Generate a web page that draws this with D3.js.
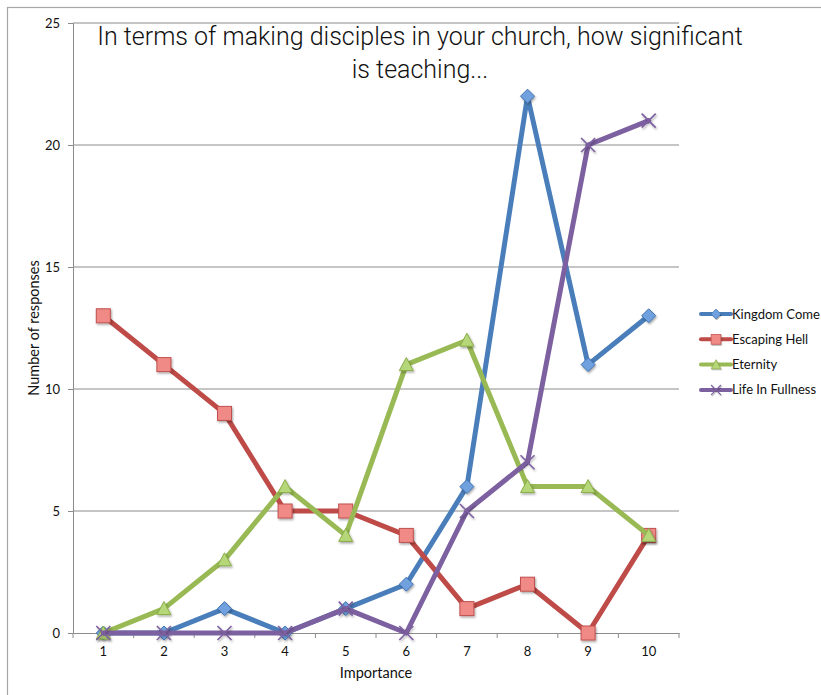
<!DOCTYPE html>
<html>
<head>
<meta charset="utf-8">
<script src="https://cdn.jsdelivr.net/npm/d3@7"></script>
<style>
  html, body { margin: 0; padding: 0; background: #fff; }
  svg { display: block; }
</style>
</head>
<body>
<svg id="chart" width="821" height="695"></svg>
<script>
// Survey responses per importance rating (1–10)
const categories = [1, 2, 3, 4, 5, 6, 7, 8, 9, 10];
const kingdomCome = [0, 0, 1, 0, 1, 2, 6, 22, 11, 13];
const escapingHell = [13, 11, 9, 5, 5, 4, 1, 2, 0, 4];
const eternity = [0, 1, 3, 6, 4, 11, 12, 6, 6, 4];
const lifeInFullness = [0, 0, 0, 0, 1, 0, 5, 7, 20, 21];
const seriesNames = ["Kingdom Come", "Escaping Hell", "Eternity", "Life In Fullness"];
const yTicks = [0, 5, 10, 15, 20, 25];
const titleLines = ["In terms of making disciples in your church, how significant", "is teaching..."];

const seriesValues = [kingdomCome, escapingHell, eternity, lifeInFullness];
const seriesStyle = [
  { line: "#4a7ebb", fill: "#6fa0de", stroke: "#3f72b0", marker: "diamond" },
  { line: "#be4b48", fill: "#f08a86", stroke: "#c0504d", marker: "square" },
  { line: "#98b954", fill: "#b5d679", stroke: "#8aad48", marker: "triangle" },
  { line: "#7d60a0", fill: "none", stroke: "#7d60a0", marker: "cross" }
];

const svg = d3.select("#chart");
const font = "Lato, 'Open Sans', sans-serif";

// outer frame
svg.append("rect")
  .attr("x", 7.5).attr("y", 7.5)
  .attr("width", 900).attr("height", 800)
  .attr("fill", "none").attr("stroke", "#a6a6a6").attr("stroke-width", 1.2);

const plot = { left: 73, right: 679, top: 23, bottom: 633 };

const x = d3.scaleBand().domain(categories).range([plot.left, plot.right]);
const y = d3.scaleLinear().domain([0, 25]).range([plot.bottom, plot.top]);
const cx = d => x(d) + x.bandwidth() / 2;

// drop shadow for markers
const defs = svg.append("defs");
const sh = defs.append("filter").attr("id", "shadow")
  .attr("x", "-50%").attr("y", "-50%").attr("width", "200%").attr("height", "200%");
sh.append("feDropShadow").attr("dx", 1).attr("dy", 1.5).attr("stdDeviation", 1)
  .attr("flood-color", "#000").attr("flood-opacity", 0.35);

// horizontal gridlines
svg.append("g").selectAll("line")
  .data(yTicks.filter(t => t > 0))
  .join("line")
  .attr("x1", plot.left).attr("x2", plot.right)
  .attr("y1", d => y(d)).attr("y2", d => y(d))
  .attr("stroke", "#8c8c8c").attr("stroke-width", 1);

// y axis
const yAxis = svg.append("g")
  .attr("transform", `translate(${plot.left},0)`)
  .call(d3.axisLeft(y).tickValues(yTicks).tickSize(5).tickPadding(8));
yAxis.select(".domain").attr("stroke", "#8c8c8c");
yAxis.selectAll(".tick line").attr("stroke", "#8c8c8c");
yAxis.selectAll("text").attr("font-family", font).attr("font-size", 13).attr("fill", "#111");

// x axis: ticks at category boundaries, labels at centers
const xAxis = svg.append("g")
  .attr("transform", `translate(0,${plot.bottom})`)
  .call(d3.axisBottom(x).tickSize(0).tickPadding(14));
xAxis.select(".domain").attr("stroke", "#8c8c8c");
xAxis.selectAll("text").attr("font-family", font).attr("font-size", 13).attr("fill", "#111");
svg.append("g").selectAll("line")
  .data(categories.map(c => x(c)).concat([plot.right]))
  .join("line")
  .attr("x1", d => d).attr("x2", d => d)
  .attr("y1", plot.bottom).attr("y2", plot.bottom + 5)
  .attr("stroke", "#8c8c8c");

// axis titles
svg.append("text")
  .attr("x", (plot.left + plot.right) / 2).attr("y", 678)
  .attr("text-anchor", "middle")
  .attr("font-family", font).attr("font-size", 14.5).attr("fill", "#111")
  .text("Importance");
svg.append("text")
  .attr("transform", `translate(39,328) rotate(-90)`)
  .attr("text-anchor", "middle")
  .attr("font-family", font).attr("font-size", 14.5).attr("fill", "#111")
  .text("Number of responses");

// title
svg.append("g").selectAll("text")
  .data(titleLines)
  .join("text")
  .attr("x", 420).attr("y", (d, i) => 45 + i * 33)
  .attr("text-anchor", "middle")
  .attr("font-family", "Roboto, 'Liberation Sans', sans-serif")
  .attr("font-weight", 300)
  .attr("font-size", 25).attr("fill", "#111")
  .text(d => d);

// marker drawing
function drawMarker(g, kind, st, px, py) {
  if (kind === "diamond") {
    g.append("path")
      .attr("d", `M${px},${py - 7}L${px + 7},${py}L${px},${py + 7}L${px - 7},${py}Z`)
      .attr("fill", st.fill).attr("stroke", st.stroke).attr("stroke-width", 1)
      .attr("filter", "url(#shadow)");
  } else if (kind === "square") {
    g.append("rect")
      .attr("x", px - 7).attr("y", py - 7).attr("width", 14).attr("height", 14)
      .attr("fill", st.fill).attr("stroke", st.stroke).attr("stroke-width", 1)
      .attr("filter", "url(#shadow)");
  } else if (kind === "triangle") {
    g.append("path")
      .attr("d", `M${px},${py - 7}L${px + 7},${py + 6}L${px - 7},${py + 6}Z`)
      .attr("fill", st.fill).attr("stroke", st.stroke).attr("stroke-width", 1)
      .attr("filter", "url(#shadow)");
  } else {
    g.append("path")
      .attr("d", `M${px - 7},${py - 7}L${px + 7},${py + 7}M${px + 7},${py - 7}L${px - 7},${py + 7}`)
      .attr("fill", "none").attr("stroke", st.stroke).attr("stroke-width", 1.6)
      .attr("filter", "url(#shadow)");
  }
}

const line = d3.line().x(d => cx(d.c)).y(d => y(d.v));

seriesValues.forEach((vals, i) => {
  const st = seriesStyle[i];
  const pts = categories.map((c, j) => ({ c, v: vals[j] }));
  const g = svg.append("g");
  g.append("path")
    .datum(pts)
    .attr("d", line)
    .attr("fill", "none").attr("stroke", st.line)
    .attr("stroke-width", 5).attr("stroke-linejoin", "round").attr("stroke-linecap", "round");
  pts.forEach(p => drawMarker(g, st.marker, st, cx(p.c), y(p.v)));
});

// legend
const legend = svg.append("g");
seriesNames.forEach((name, i) => {
  const st = seriesStyle[i];
  const ly = 314 + i * 25.3;
  const g = legend.append("g");
  g.append("line")
    .attr("x1", 701).attr("x2", 731).attr("y1", ly).attr("y2", ly)
    .attr("stroke", st.line).attr("stroke-width", 4).attr("stroke-linecap", "round");
  const s = 0.7;
  const mg = g.append("g").attr("transform", `translate(${716},${ly}) scale(${s}) translate(${-716},${-ly})`);
  drawMarker(mg, st.marker, st, 716, ly);
  g.append("text")
    .attr("x", 732).attr("y", ly + 4.5)
    .attr("font-family", font).attr("font-size", 13).attr("fill", "#111")
    .text(name);
});
</script>
</body>
</html>
